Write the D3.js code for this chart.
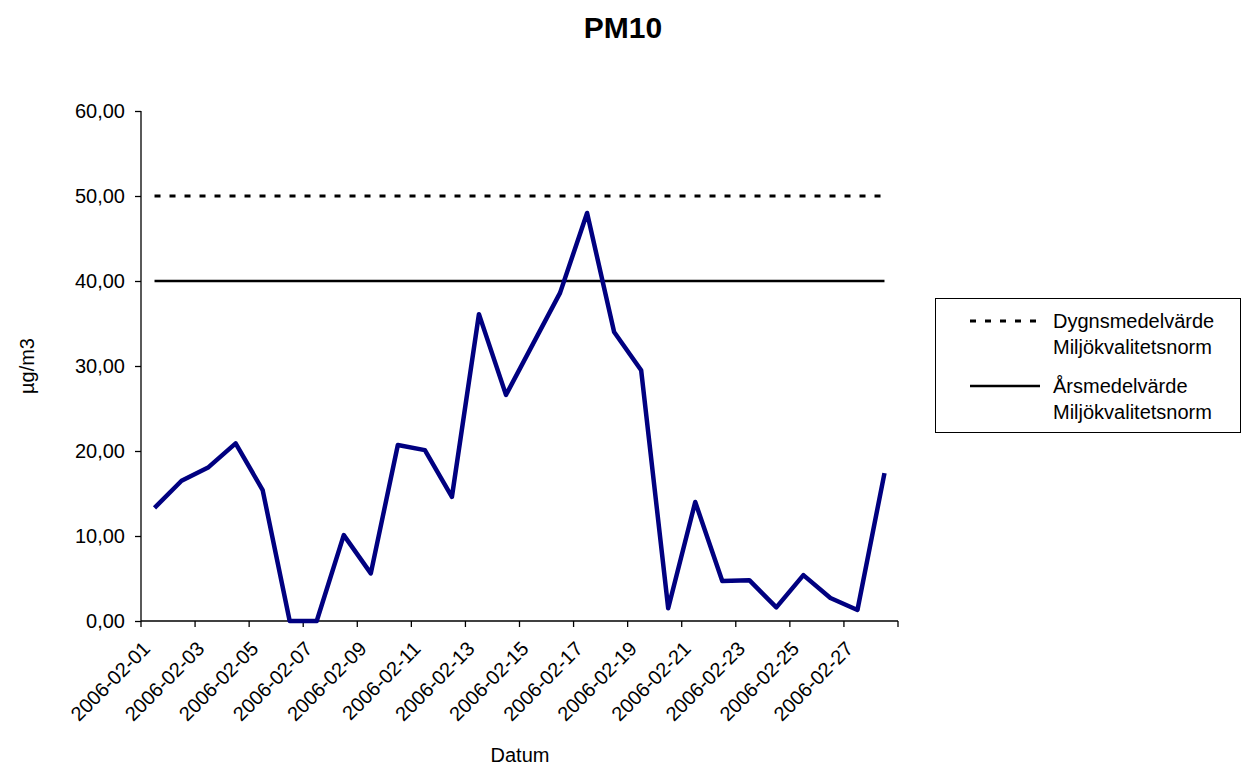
<!DOCTYPE html>
<html>
<head>
<meta charset="utf-8">
<script src="https://cdn.jsdelivr.net/npm/d3@7"></script>
<style>
body { margin: 0; background: white; }
text { font-family: "Liberation Sans", Arial, sans-serif; }
</style>
</head>
<body>
<script>
// data
var dates = ["2006-02-01","2006-02-02","2006-02-03","2006-02-04","2006-02-05","2006-02-06","2006-02-07",
             "2006-02-08","2006-02-09","2006-02-10","2006-02-11","2006-02-12","2006-02-13","2006-02-14",
             "2006-02-15","2006-02-16","2006-02-17","2006-02-18","2006-02-19","2006-02-20","2006-02-21",
             "2006-02-22","2006-02-23","2006-02-24","2006-02-25","2006-02-26","2006-02-27","2006-02-28"];
var pm10 = [13.3, 16.5, 18.1, 20.9, 15.4, 0, 0, 10.1, 5.6, 20.7, 20.1, 14.6, 36.1, 26.6,
            32.6, 38.6, 48.0, 34.0, 29.5, 1.5, 14.0, 4.7, 4.8, 1.6, 5.4, 2.7, 1.3, 17.4];
var yTicks = [0, 10, 20, 30, 40, 50, 60];
var dygnNorm = 50;
var arsNorm = 40;
var legendLabels = [["Dygnsmedelvärde", "Miljökvalitetsnorm"], ["Årsmedelvärde", "Miljökvalitetsnorm"]];

var settings = {
    width: 1248,
    height: 767,
    left: 141,
    right: 898,
    top: 111,
    bottom: 621,
    lineColor: "#000080"
}

var svg = d3.select("body").append("svg")
    .attr("width", settings.width)
    .attr("height", settings.height);

var x = d3.scaleBand().domain(dates).range([settings.left, settings.right]);
var y = d3.scaleLinear().domain([0, 60]).range([settings.bottom, settings.top]);
var cx = (d) => x(d) + x.bandwidth() / 2;

var comma = d3.formatLocale({decimal: ",", thousands: " ", grouping: [3], currency: ["", " kr"]}).format(".2f");

// title
svg.append("text")
    .attr("x", 623).attr("y", 38)
    .attr("text-anchor", "middle")
    .style("font-size", "30px")
    .style("font-weight", "bold")
    .text("PM10");

// y axis
var yAxis = svg.append("g")
    .attr("transform", "translate(" + settings.left + ",0)")
    .call(d3.axisLeft(y).tickValues(yTicks).tickFormat(comma).tickSize(6).tickPadding(10));
yAxis.selectAll("text").style("font-size", "20px").style("font-family", "Liberation Sans, Arial, sans-serif").attr("fill", "black");
yAxis.selectAll("line, path").attr("stroke", "black").attr("stroke-width", 1.3);
yAxis.select(".domain").attr("d", "M0," + settings.top + "V" + settings.bottom);

// x axis line and ticks every 2 days
svg.append("line")
    .attr("x1", settings.left).attr("x2", settings.right)
    .attr("y1", settings.bottom).attr("y2", settings.bottom)
    .attr("stroke", "black").attr("stroke-width", 1.3);

var tickIdx = d3.range(0, dates.length + 1, 2);
svg.append("g").selectAll("line")
    .data(tickIdx)
    .enter().append("line")
    .attr("x1", (d) => d < dates.length ? x(dates[d]) : settings.right)
    .attr("x2", (d) => d < dates.length ? x(dates[d]) : settings.right)
    .attr("y1", settings.bottom).attr("y2", settings.bottom + 6)
    .attr("stroke", "black").attr("stroke-width", 1.3);

var labelDates = dates.filter((d, i) => i % 2 == 0);
svg.append("g").selectAll("text")
    .data(labelDates)
    .enter().append("text")
    .attr("transform", (d) => "translate(" + (cx(d) - 8) + "," + (settings.bottom + 24) + ") rotate(-45)")
    .attr("text-anchor", "end")
    .attr("dy", "0.35em")
    .style("font-size", "20px")
    .text((d) => d);

// axis titles
svg.append("text")
    .attr("x", 520).attr("y", 762)
    .attr("text-anchor", "middle")
    .style("font-size", "20px")
    .text("Datum");

svg.append("text")
    .attr("transform", "translate(34,366) rotate(-90)")
    .attr("text-anchor", "middle")
    .style("font-size", "20px")
    .text("µg/m3");

// norm lines
var first = cx(dates[0]), last = cx(dates[dates.length - 1]);
svg.append("line")
    .attr("x1", first).attr("x2", last)
    .attr("y1", y(dygnNorm)).attr("y2", y(dygnNorm))
    .attr("stroke", "black").attr("stroke-width", 3)
    .attr("stroke-dasharray", "6,9");
svg.append("line")
    .attr("x1", first).attr("x2", last)
    .attr("y1", y(arsNorm)).attr("y2", y(arsNorm))
    .attr("stroke", "black").attr("stroke-width", 2.5);

// PM10 line
var line = d3.line()
    .x((d, i) => cx(dates[i]))
    .y((d) => y(d));
svg.append("path")
    .datum(pm10)
    .attr("d", line)
    .attr("fill", "none")
    .attr("stroke", settings.lineColor)
    .attr("stroke-width", 4.5)
    .attr("stroke-linejoin", "round");

// legend
var legend = svg.append("g");
legend.append("rect")
    .attr("x", 935.5).attr("y", 298.5)
    .attr("width", 305).attr("height", 134)
    .attr("fill", "white").attr("stroke", "black").attr("stroke-width", 1);

var rows = legend.selectAll("g.row")
    .data(legendLabels)
    .enter().append("g")
    .attr("class", "row")
    .attr("transform", (d, i) => "translate(0," + (i * 65) + ")");

rows.append("line")
    .attr("x1", 970).attr("x2", 1040)
    .attr("y1", 321).attr("y2", 321)
    .attr("stroke", "black")
    .attr("stroke-width", (d, i) => i == 0 ? 3 : 2.5)
    .attr("stroke-dasharray", (d, i) => i == 0 ? "6,9" : null);

rows.selectAll("text")
    .data((d) => d)
    .enter().append("text")
    .attr("x", 1053)
    .attr("y", (d, j) => 328 + j * 26)
    .style("font-size", "20px")
    .text((d) => d);
</script>
</body>
</html>
